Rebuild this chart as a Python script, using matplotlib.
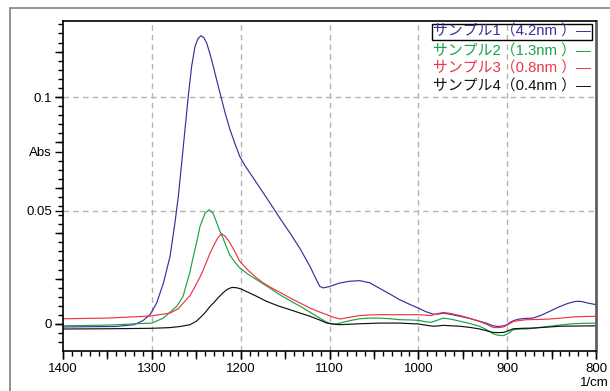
import numpy as np
import matplotlib.pyplot as plt
from matplotlib.patches import Rectangle
from matplotlib.ticker import MultipleLocator, NullFormatter

# 読み取った値 (波数 1/cm, 吸光度)
wn_1 = [1400, 1340, 1320, 1310, 1302, 1294.5, 1287, 1279.5, 1274, 1270.2, 1266.4,
        1262.7, 1259, 1255.2, 1251.4, 1248, 1244.7, 1241.5, 1238.3, 1234.5,
        1230.8, 1227, 1223.3, 1217.5, 1212, 1206, 1201, 1195, 1189.5, 1178, 1167,
        1156, 1144.5, 1133, 1122, 1116, 1111, 1107, 1100, 1089, 1078, 1066, 1055,
        1044, 1032, 1021, 1010, 1000, 992, 983, 977, 972, 963, 953, 942, 931, 923,
        916, 910, 904, 900, 897, 892, 886, 878, 871, 862, 852, 843, 833, 827, 822,
        816, 810, 805, 800]
abs_1 = [-0.0013, -0.0011, -0.0003, 0.0015, 0.0041, 0.0093, 0.018, 0.0298, 0.0445,
         0.0562, 0.0709, 0.0856, 0.1003, 0.1135, 0.1223, 0.1258, 0.127, 0.1262,
         0.1238, 0.119, 0.1135, 0.1075, 0.1018, 0.093, 0.0856, 0.079, 0.0738,
         0.0697, 0.0665, 0.0598, 0.0533, 0.0467, 0.0401, 0.0331, 0.0254, 0.0205,
         0.0166, 0.0159, 0.0165, 0.018, 0.0188, 0.0191, 0.0182, 0.0158, 0.0132,
         0.0107, 0.0087, 0.007, 0.0055, 0.0043, 0.0044, 0.0048, 0.0042, 0.0034,
         0.0024, 0.0012, 0.0003, -0.0008, -0.0011, -0.0008, -0.0003, 0.0007,
         0.0016, 0.0022, 0.0025, 0.0026, 0.0038, 0.0056, 0.0073, 0.0089, 0.0096,
         0.01, 0.0099, 0.0093, 0.0089, 0.0085]

wn_2 = [1400, 1350, 1300, 1287, 1272, 1265, 1260.7, 1257, 1253.3, 1249, 1245.8,
        1240, 1235.3, 1231, 1227.5, 1224, 1220, 1216, 1212.5, 1207, 1201, 1192,
        1182, 1175, 1166, 1156, 1145, 1133, 1122, 1111, 1105, 1099, 1093, 1088,
        1077, 1066, 1055, 1044, 1032, 1021, 1010, 1000, 993, 986, 979, 972, 963,
        953, 942, 931, 923, 916, 910, 904, 899, 893, 885, 878, 865, 852, 839, 826,
        813, 800]
abs_2 = [-0.0008, -0.0005, 0.0004, 0.0026, 0.0078, 0.012, 0.018, 0.023, 0.0298,
         0.037, 0.043, 0.0489, 0.0503, 0.0488, 0.0452, 0.0415, 0.0379, 0.034,
         0.0305, 0.0275, 0.0247, 0.022, 0.0195, 0.0178, 0.0155, 0.0129, 0.0104,
         0.0078, 0.0052, 0.0026, 0.0012, 0.0001, 0.0, 0.0004, 0.0015, 0.0023,
         0.0026, 0.0026, 0.0023, 0.0019, 0.0018, 0.0016, 0.0011, 0.0007, 0.0016,
         0.0026, 0.0021, 0.0012, 0.0002, -0.001, -0.0025, -0.0043, -0.005, -0.0051,
         -0.0042, -0.0025, -0.0022, -0.0022, -0.0016, -0.001, -0.0004, 0.0001,
         0.0003, 0.0004]

wn_3 = [1400, 1350, 1302, 1279.5, 1270, 1264.5, 1257, 1253.3, 1246, 1242, 1234.7,
        1230.8, 1226, 1221.6, 1217, 1212, 1206, 1201, 1192, 1182, 1175, 1167,
        1156, 1144.5, 1133, 1122, 1112, 1103, 1095, 1088, 1077, 1066, 1055, 1044,
        1032, 1021, 1010, 1000, 993, 986, 979, 972, 963, 953, 942, 931, 923, 916,
        910, 904, 899, 893, 885, 878, 865, 852, 839, 826, 813, 800]
abs_3 = [0.0023, 0.0026, 0.0035, 0.0048, 0.0068, 0.0093, 0.0125, 0.0151, 0.0205,
         0.0239, 0.031, 0.0342, 0.0378, 0.0398, 0.0385, 0.0357, 0.0315, 0.0276,
         0.0238, 0.0203, 0.0182, 0.0163, 0.014, 0.0115, 0.0092, 0.007, 0.0054,
         0.0041, 0.0029, 0.0022, 0.003, 0.0037, 0.004, 0.0041, 0.0041, 0.0041,
         0.0041, 0.0041, 0.0039, 0.0037, 0.0045, 0.0051, 0.0046, 0.0037, 0.0025,
         0.0011, -0.0002, -0.0015, -0.0016, -0.0013, -0.0003, 0.0011, 0.0016,
         0.0019, 0.002, 0.0022, 0.0026, 0.0031, 0.0033, 0.0034]

wn_4 = [1400, 1350, 1300, 1280, 1268, 1257, 1250, 1245, 1240, 1235, 1230, 1225,
        1220, 1215, 1210, 1205, 1200, 1194, 1182, 1171, 1158, 1144.5, 1133, 1122,
        1112, 1103, 1095, 1088, 1077, 1066, 1044, 1021, 1000, 992, 983, 977, 972,
        963, 953, 942, 931, 923, 916, 910, 904, 899, 893, 882, 871, 856, 841, 820,
        800]
abs_4 = [-0.0022, -0.0021, -0.0019, -0.0016, -0.0011, -0.0003, 0.0012, 0.003,
         0.005, 0.0075, 0.0095, 0.0117, 0.0137, 0.0153, 0.0161, 0.016, 0.0155,
         0.0144, 0.0122, 0.01, 0.008, 0.0063, 0.0048, 0.0034, 0.0019, 0.0004,
         -0.0001, -0.0003, -0.0001, 0.0001, 0.0004, 0.0004, 0.0, -0.0005, -0.001,
         -0.0008, -0.0006, -0.0008, -0.001, -0.0015, -0.0022, -0.003, -0.0037,
         -0.0038, -0.0037, -0.003, -0.0021, -0.0019, -0.0018, -0.0014, -0.001,
         -0.0009, -0.0008]

labels = ["サンプル1（4.2nm ）—", "サンプル2（1.3nm ）—",
          "サンプル3（0.8nm ）—", "サンプル4（0.4nm ）—"]
colors = ["#3c2d9c", "#17a348", "#ee3344", "#111111"]

ytick_pos = [0, 0.05, 0.076, 0.1]
ytick_lab = ["0", "0.05", "Abs", "0.1"]
xtick_pos = [1400, 1300, 1200, 1100, 1000, 900, 800]

plt.rcParams['font.family'] = ['Liberation Sans', 'Noto Sans CJK JP']

fig = plt.figure(figsize=(6.1, 3.91), dpi=100)
# 外枠
fig.patches.append(Rectangle((10 / 610, -0.1), 1.2, 1 - 8 / 391 + 0.1,
                             transform=fig.transFigure, fill=False,
                             edgecolor="#808080", lw=1.2))
ax = fig.add_axes([63 / 610, 40 / 391, 533 / 610, 330 / 391])

for wn, ab, c in zip([wn_1, wn_2, wn_3, wn_4], [abs_1, abs_2, abs_3, abs_4], colors):
    ax.plot(wn, ab, color=c, lw=0.85)

ax.set_xlim(1400, 800)
ax.set_ylim(-0.0119, 0.1335)

# グリッド
for x in xtick_pos[1:-1]:
    ax.axvline(x, color="#b4b4b4", lw=1, ls=(0, (4, 3)), zorder=0)
for y in [0.05, 0.1]:
    ax.axhline(y, color="#b4b4b4", lw=1, ls=(0, (4, 3)), zorder=0)

ax.set_xticks(xtick_pos)
ax.set_xticklabels([str(x) for x in xtick_pos])
ax.xaxis.set_minor_locator(MultipleLocator(10))
ax.set_yticks(ytick_pos)
ax.set_yticklabels(ytick_lab)
ax.yaxis.set_minor_locator(MultipleLocator(0.004))
ax.tick_params(which="major", direction="out", length=6, width=1, labelsize=9.5,
               pad=2, colors="black")
ax.tick_params(which="minor", direction="out", length=3.5, width=1)
ax.tick_params(axis="x", pad=3)

# 中間の目盛り (50 ごと / 0.02 ごと)
sx = ax.secondary_xaxis("bottom")
sx.xaxis.set_major_locator(MultipleLocator(50))
sx.xaxis.set_major_formatter(NullFormatter())
sx.tick_params(direction="out", length=5.5, width=1)
sx.spines["bottom"].set_visible(False)
sy = ax.secondary_yaxis("left")
sy.yaxis.set_major_locator(MultipleLocator(0.02))
sy.yaxis.set_major_formatter(NullFormatter())
sy.tick_params(direction="out", length=6, width=1)
sy.spines["left"].set_visible(False)

for s in ["left", "bottom", "top"]:
    ax.spines[s].set_linewidth(1.2)
ax.spines["right"].set_color("#606060")
ax.spines["right"].set_linewidth(2)

ax.text((580 - 63) / 533, -0.078, "1/cm", transform=ax.transAxes, ha="left",
        va="top", fontsize=9.5)

# 凡例
ys = [0.9667, 0.909, 0.8545, 0.8]
for i, (lab, c, y) in enumerate(zip(labels, colors, ys)):
    kw = {}
    if i == 0:
        kw["bbox"] = dict(boxstyle="square,pad=0.08", fc="none", ec="black", lw=1)
    ax.text(0.9906, y, lab, transform=ax.transAxes, ha="right", va="center",
            color=c, fontsize=10.7, **kw)

plt.savefig("out.png", dpi=100)
